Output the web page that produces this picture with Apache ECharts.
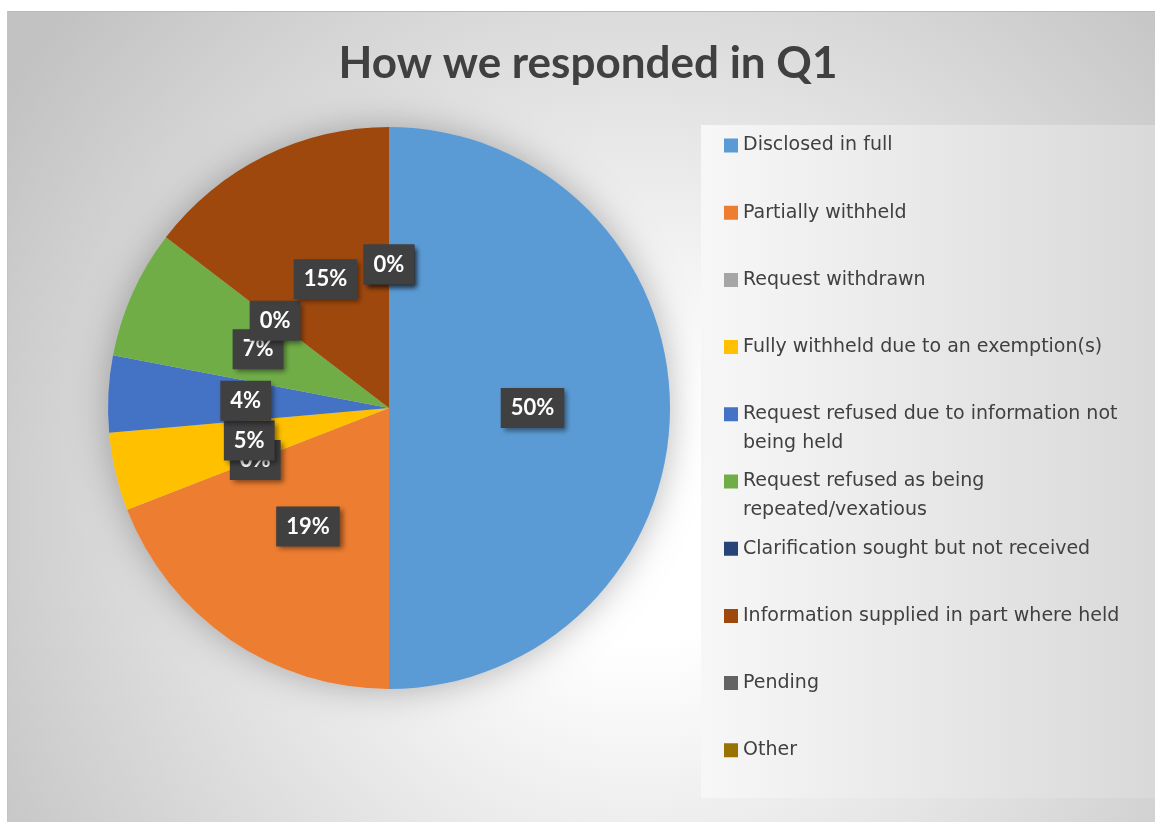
<!DOCTYPE html>
<html><head><meta charset="utf-8">
<script src="https://cdn.jsdelivr.net/npm/echarts@6/dist/echarts.min.js"></script>
<style>
html,body{margin:0;padding:0;background:#fff;width:1155px;height:822px;overflow:hidden}
#frame{position:absolute;left:7px;top:11px;width:1148px;height:811px;border-top:1px solid #bcbcbc;border-left:1px solid #c4c4c4;box-sizing:border-box;background:radial-gradient(circle at 55% 62%, #ffffff 0px, #ffffff 130px, #c2c2c2 760px)}
#chart{position:absolute;left:7px;top:12px;width:1148px;height:810px}
</style></head>
<body><div id="frame"></div><div id="chart"></div>
<script>
const titleText = 'How we responded in Q1';
const categories = [
  'Disclosed in full',
  'Partially withheld',
  'Request withdrawn',
  'Fully withheld due to an exemption(s)',
  'Request refused due to information not being held',
  'Request refused as being repeated/vexatious',
  'Clarification sought but not received',
  'Information supplied in part where held',
  'Pending',
  'Other'
];
const values = [50, 19.1, 0, 4.5, 4.4, 7.4, 0, 14.6, 0, 0];
const colors = ['#5B9BD5','#ED7D31','#A5A5A5','#FFC000','#4472C4','#70AD47','#264478','#9E480E','#636363','#997300'];

function wrap(name) {
  const words = name.split(' ');
  const lines = [];
  let cur = '';
  words.forEach(w => {
    const t = cur ? cur + ' ' + w : w;
    if (t.length > 39 && cur) { lines.push(cur); cur = w; } else { cur = t; }
  });
  lines.push(cur);
  if (lines.length < 2) lines.push(' ');
  return lines.join('\n');
}

const chart = echarts.init(document.getElementById('chart'), null, {renderer: 'canvas'});
const total = values.reduce((a, b) => a + b, 0);
chart.setOption({
  animation: false,
  color: colors,
  title: {
    text: titleText,
    left: 576, top: 25, textAlign: 'center',
    textStyle: {fontFamily: 'Lato', fontWeight: 'bold', fontSize: 44, color: '#404040'}
  },
  graphic: [{
    type: 'rect', left: 694, top: 113, z: -1, silent: true,
    shape: {width: 454, height: 673},
    style: {fill: new echarts.graphic.LinearGradient(0, 0, 1, 0, [
      {offset: 0, color: '#f7f7f7'}, {offset: 1, color: '#d9d9d9'}])}
  }],
  legend: {
    orient: 'vertical', left: 717, top: 119, padding: 0, itemGap: 9.2,
    itemWidth: 14, itemHeight: 43,
    icon: 'path://M0,0h14v14h-14zM0,43h0.01v0.01h-0.01z',
    data: categories,
    selectedMode: false,
    formatter: name => wrap(name),
    textStyle: {fontFamily: 'DejaVu Sans', fontSize: 19, color: '#404040', lineHeight: 29}
  },
  series: [{
    type: 'pie', silent: true, z: 1,
    center: [382, 396], radius: 281,
    label: {show: false}, labelLine: {show: false},
    data: [{value: total, name: '_shadow', itemStyle: {color: '#d0d0d0', shadowBlur: 35, shadowColor: 'rgba(0,0,0,0.28)'}}]
  }, {
    type: 'pie', z: 2,
    center: [382, 396], radius: 281,
    startAngle: 90, clockwise: true,
    avoidLabelOverlap: false,
    labelLayout: {hideOverlap: false},
    emphasis: {disabled: true},
    itemStyle: {borderWidth: 0},
    label: {
      show: true, position: 'inside',
      formatter: p => Math.round(p.percent) + '%',
      color: '#ffffff', fontFamily: 'Lato', fontWeight: 'bold', fontSize: 22, lineHeight: 22,
      backgroundColor: '#404040', padding: [9, 10, 9, 10],
      shadowColor: 'rgba(0,0,0,0.45)', shadowBlur: 5, shadowOffsetX: 3, shadowOffsetY: 3
    },
    labelLine: {show: false},
    data: categories.map((c, i) => ({name: c, value: values[i]}))
  }]
});
</script>
</body></html>
